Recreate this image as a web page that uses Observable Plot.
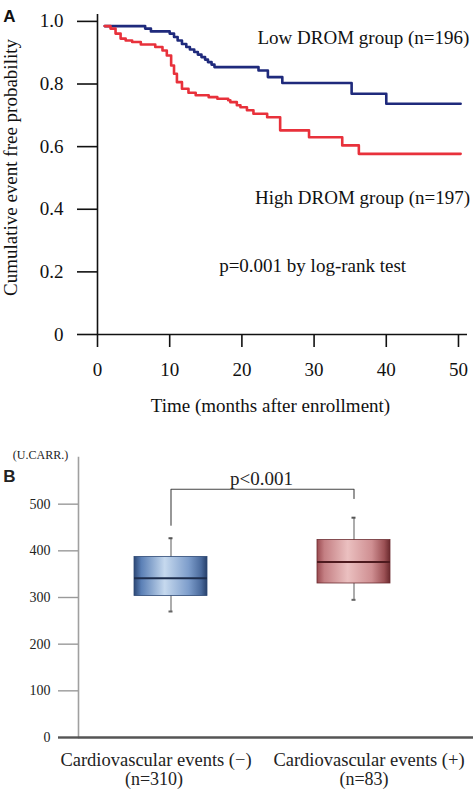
<!DOCTYPE html>
<html><head><meta charset="utf-8">
<script src="https://cdn.jsdelivr.net/npm/d3@7"></script>
<script src="https://cdn.jsdelivr.net/npm/@observablehq/plot@0.6"></script>
<style>
html,body{margin:0;padding:0;background:#fff;}
#chart{width:475px;height:789px;overflow:hidden;}
#chart svg{display:block;}
</style></head><body><div id="chart"></div>
<script>
// ---------- Panel A data (Kaplan–Meier, step-after) ----------
const lowTime  = [1, 6.6, 7.4, 10.0, 10.6, 11.1, 11.7, 12.3, 12.8, 13.4, 13.9, 14.4, 14.9, 15.3, 15.8, 16.2, 22.3, 23.6, 25.6, 35.2, 40.0, 50.3];
const lowSurv  = [0.985, 0.977, 0.968, 0.961, 0.950, 0.939, 0.928, 0.918, 0.910, 0.902, 0.894, 0.886, 0.878, 0.870, 0.862, 0.854, 0.843, 0.822, 0.803, 0.769, 0.737, 0.737];
const highTime = [1, 1.8, 2.5, 3.2, 3.9, 4.8, 6.0, 8.0, 9.0, 9.6, 10.2, 10.6, 11.0, 11.7, 12.6, 13.6, 15.4, 16.6, 18.1, 18.4, 19.3, 19.8, 20.7, 21.6, 23.5, 25.3, 29.3, 33.9, 36.2, 50.3];
const highSurv = [0.985, 0.977, 0.961, 0.945, 0.939, 0.934, 0.926, 0.918, 0.907, 0.891, 0.859, 0.833, 0.806, 0.785, 0.772, 0.764, 0.758, 0.753, 0.748, 0.742, 0.732, 0.726, 0.716, 0.705, 0.694, 0.652, 0.630, 0.604, 0.577, 0.577];
const xTicksA = [0, 10, 20, 30, 40, 50];
const yTicksA = [0, 0.2, 0.4, 0.6, 0.8, 1.0];
const lowLabel = "Low DROM group (n=196)";
const highLabel = "High DROM group (n=197)";
const pLabelA = "p=0.001 by log-rank test";

// ---------- Panel B data (box plots) ----------
const groups = ["neg", "pos"];
const groupLabels = ["Cardiovascular events (\u2212)", "Cardiovascular events (+)"];
const groupN = ["(n=310)", "(n=83)"];
const whiskerLow  = [270, 295];
const q1          = [303, 330];
const median      = [341, 376];
const q3          = [387, 423];
const whiskerHigh = [427, 471];
const yTicksB = [100, 200, 300, 400, 500];
const bracketX = ["neg", "neg", "pos", "pos"];
const bracketY = [455, 532, 532, 512];
const pLabelB = "p<0.001";

const serif = '"Liberation Serif", "Times New Roman", serif';
const sans = '"Liberation Sans", Arial, sans-serif';

const lowData = lowTime.map((t, i) => ({t, s: lowSurv[i]}));
const highData = highTime.map((t, i) => ({t, s: highSurv[i]}));

const panelA = Plot.plot({
  width: 475, height: 420,
  marginLeft: 97, marginRight: 8, marginTop: 14, marginBottom: 86,
  x: {domain: [0, 51.25]},
  y: {domain: [0, 1.022]},
  style: {fontFamily: serif, fontSize: "19px", color: "#111", background: "white", overflow: "visible"},
  marks: [
    Plot.axisY({ticks: yTicksA, tickFormat: d => d === 0 ? "0" : d.toFixed(1), tickSize: 20, tickPadding: 14, strokeWidth: 1.6, label: null}),
    Plot.axisX({ticks: xTicksA, tickSize: 13, tickPadding: 15, strokeWidth: 1.6, label: null}),
    Plot.ruleX([0], {stroke: "#111", strokeWidth: 1.6}),
    Plot.ruleY([0], {stroke: "#111", strokeWidth: 1.6}),
    Plot.line(lowData, {x: "t", y: "s", curve: "step-after", stroke: "#1f2a7c", strokeWidth: 2.6}),
    Plot.line(highData, {x: "t", y: "s", curve: "step-after", stroke: "#e8313b", strokeWidth: 2.6}),
    Plot.text([lowLabel], {x: 51.5, y: 0.946, text: d => d, textAnchor: "end", fontSize: 19}),
    Plot.text([highLabel], {x: 51.6, y: 0.435, text: d => d, textAnchor: "end", fontSize: 19}),
    Plot.text([pLabelA], {x: 29.8, y: 0.22, text: d => d, fontSize: 19}),
    Plot.text(["Cumulative event free probability"], {frameAnchor: "left", text: d => d, rotate: -90, textAnchor: "middle", lineAnchor: "middle", dx: -87, dy: -7, fontSize: 19}),
    Plot.text(["Time (months after enrollment)"], {frameAnchor: "bottom", text: d => d, lineAnchor: "middle", dx: -12, dy: 71, fontSize: 19}),
    Plot.text(["A"], {frameAnchor: "top-left", text: d => d, textAnchor: "middle", lineAnchor: "middle", dx: -88, dy: 2, fontSize: 17, fontWeight: "bold", fontFamily: sans})
  ]
});

const boxes = groups.map((g, i) => ({g, lo: whiskerLow[i], q1: q1[i], med: median[i], q3: q3[i], hi: whiskerHigh[i], label: groupLabels[i], n: groupN[i]}));
const bracket = bracketX.map((x, i) => ({x, y: bracketY[i]}));
const boxFill = {neg: "url(#gBlue)", pos: "url(#gRed)"};
const boxEdge = {neg: "#2f4a76", pos: "#6b2b30"};
const medColor = {neg: "#1d2d4d", pos: "#4d1a1e"};

const panelB = Plot.plot({
  width: 475, height: 369,
  marginLeft: 78, marginRight: 2, marginTop: 37, marginBottom: 52,
  x: {type: "band", domain: groups, paddingInner: 0.6, paddingOuter: 0.379, align: 0.4, axis: null},
  y: {domain: [0, 600]},
  color: {type: "identity"},
  style: {fontFamily: serif, fontSize: "14px", color: "#222", background: "white", overflow: "visible"},
  marks: [
    Plot.frame({anchor: "left", stroke: "#a0a0a0", strokeWidth: 1.6}),
    Plot.axisY({ticks: yTicksB, tickSize: 20, tickPadding: 8, stroke: "#9a9a9a", strokeWidth: 1.4, label: null}),
    Plot.axisY({ticks: [0], tickSize: 20, tickPadding: 8, stroke: "#555", strokeWidth: 2.4, label: null}),
    Plot.ruleY([0], {stroke: "#555", strokeWidth: 2.4}),
    Plot.ruleX(boxes, {x: "g", y1: "lo", y2: "hi", stroke: "#808080", strokeWidth: 1.3}),
    Plot.tickY(boxes, {x: "g", y: "lo", inset: 34.5, stroke: "#666", strokeWidth: 2}),
    Plot.tickY(boxes, {x: "g", y: "hi", inset: 34.5, stroke: "#555", strokeWidth: 2}),
    Plot.barY(boxes, {x: "g", y1: "q1", y2: "q3", fill: d => boxFill[d.g], stroke: d => boxEdge[d.g], strokeWidth: 0.8}),
    Plot.tickY(boxes, {x: "g", y: "med", stroke: d => medColor[d.g], strokeWidth: 2}),
    Plot.line(bracket, {x: "x", y: "y", stroke: "#444", strokeWidth: 1.1}),
    Plot.text([pLabelB], {frameAnchor: "top", y: 570, text: d => d, dx: -14.5, fontSize: 19}),
    Plot.text(boxes.filter(d => d.g === "neg"), {x: "g", text: "label", frameAnchor: "bottom", lineAnchor: "middle", dy: 23, dx: -15, fontSize: 18.5}),
    Plot.text(boxes.filter(d => d.g === "pos"), {x: "g", text: "label", frameAnchor: "bottom", lineAnchor: "middle", dy: 23, dx: 15, fontSize: 18.5}),
    Plot.text(boxes.filter(d => d.g === "neg"), {x: "g", text: "n", frameAnchor: "bottom", lineAnchor: "middle", dy: 42, dx: -17, fontSize: 18}),
    Plot.text(boxes.filter(d => d.g === "pos"), {x: "g", text: "n", frameAnchor: "bottom", lineAnchor: "middle", dy: 42, dx: 10, fontSize: 18}),
    Plot.text(["(U.CARR.)"], {frameAnchor: "top-left", text: d => d, textAnchor: "middle", lineAnchor: "middle", dx: -38, dy: -2, fontSize: 12}),
    Plot.text(["B"], {frameAnchor: "top-left", text: d => d, textAnchor: "middle", lineAnchor: "middle", dx: -69, dy: 19, fontSize: 17, fontWeight: "bold", fontFamily: sans})
  ]
});

const ns = "http://www.w3.org/2000/svg";
const defs = document.createElementNS(ns, "defs");
defs.innerHTML = `
<linearGradient id="gBlue" x1="0" x2="1" y1="0" y2="0">
  <stop offset="0" stop-color="#2c4775"/>
  <stop offset="0.1" stop-color="#5b80b6"/>
  <stop offset="0.42" stop-color="#c6d9ee"/>
  <stop offset="0.75" stop-color="#7d9dcb"/>
  <stop offset="0.92" stop-color="#4a6a9c"/>
  <stop offset="1" stop-color="#27406b"/>
</linearGradient>
<linearGradient id="gRed" x1="0" x2="1" y1="0" y2="0">
  <stop offset="0" stop-color="#9a4a50"/>
  <stop offset="0.1" stop-color="#c47f83"/>
  <stop offset="0.42" stop-color="#ebc0c0"/>
  <stop offset="0.75" stop-color="#cf8f92"/>
  <stop offset="0.92" stop-color="#9c5155"/>
  <stop offset="1" stop-color="#6a2a2e"/>
</linearGradient>`;
panelB.insertBefore(defs, panelB.firstChild);

const chart = document.getElementById("chart");
chart.appendChild(panelA);
chart.appendChild(panelB);
</script></body></html>
